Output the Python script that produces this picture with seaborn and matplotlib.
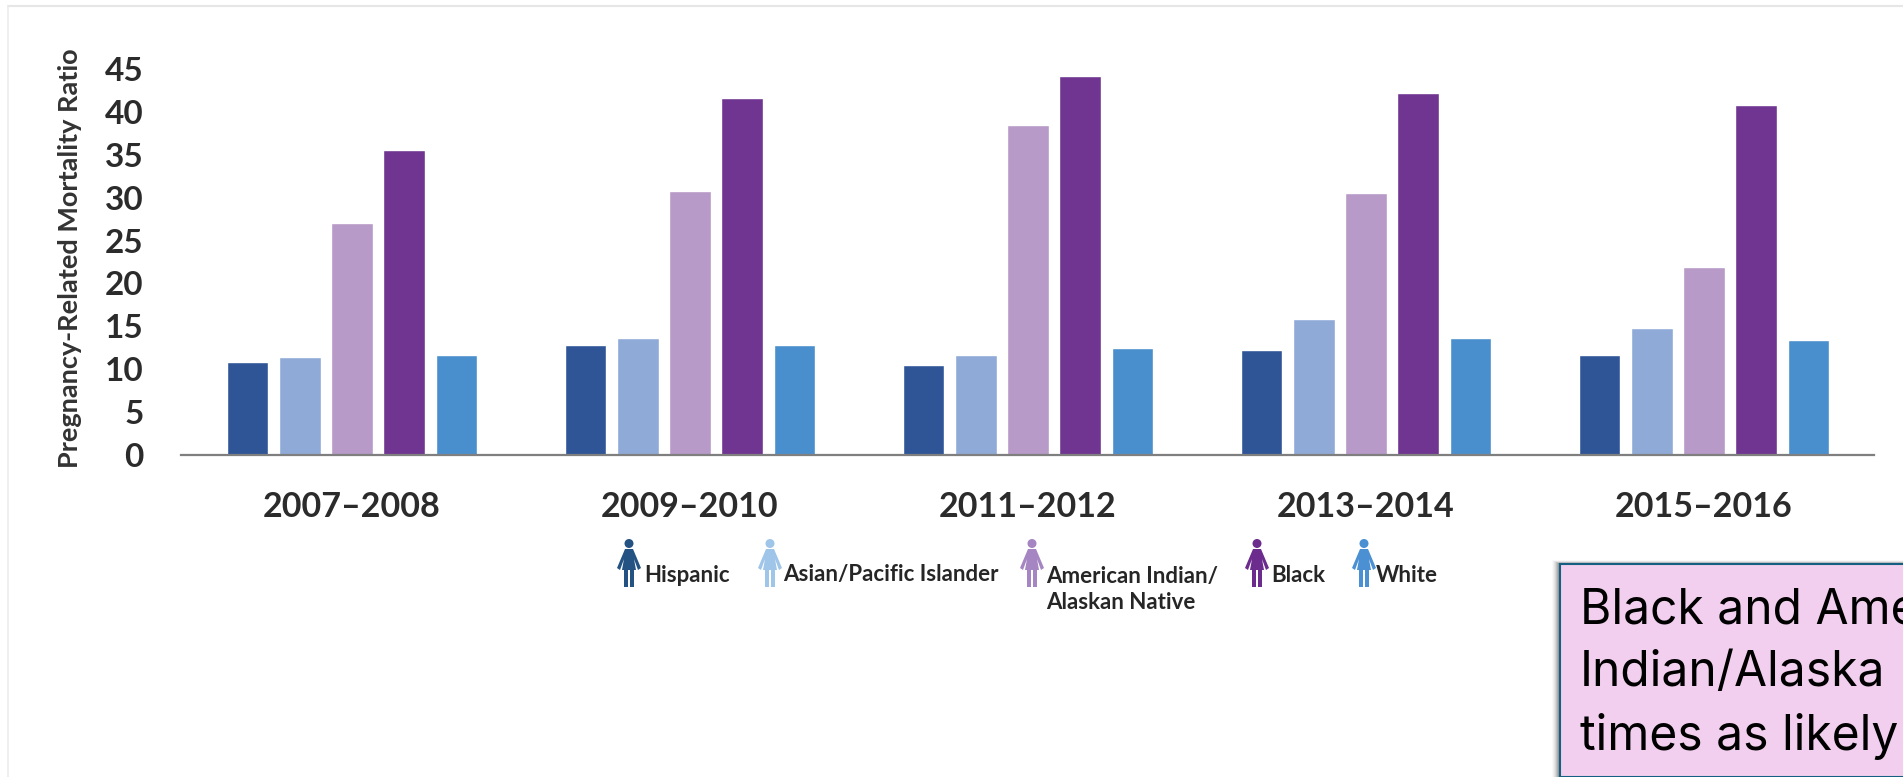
import matplotlib
matplotlib.use("Agg")
import matplotlib.pyplot as plt
import pandas as pd
import seaborn as sns
from matplotlib.lines import Line2D
from matplotlib.patches import Ellipse, Polygon, Rectangle

# Pregnancy-related mortality ratio by period and group
periods = ["2007–2008", "2009–2010", "2011–2012", "2013–2014", "2015–2016"]
hispanic = [10.8, 12.8, 10.5, 12.2, 11.6]
asian_pacific = [11.4, 13.6, 11.6, 15.9, 14.8]
american_indian = [27.1, 30.8, 38.5, 30.5, 21.9]
black = [35.6, 41.6, 44.2, 42.2, 40.8]
white = [11.6, 12.8, 12.5, 13.6, 13.4]
y_ticks = [0, 5, 10, 15, 20, 25, 30, 35, 40, 45]

groups = ["Hispanic", "Asian/Pacific Islander", "American Indian/Alaskan Native", "Black", "White"]
bar_colors = ["#2f5597", "#90aad8", "#b79ac8", "#6f3591", "#4a8fcd"]
icon_colors = ["#245282", "#9fc5e8", "#a585c2", "#6c2c8e", "#4a90d2"]
legend_labels = ["Hispanic", "Asian/Pacific Islander", "American Indian/\nAlaskan Native", "Black", "White"]

W, H = 1903, 777
sns.set_theme(style="white")
plt.rcParams["font.family"] = ["Lato", "DejaVu Sans"]

frame = pd.DataFrame({
    "period": periods * 5,
    "group": [g for g in groups for _ in periods],
    "ratio": hispanic + asian_pacific + american_indian + black + white,
})

fig = plt.figure(figsize=(W / 100, H / 100), dpi=100, facecolor="white")


def fx(px):
    return px / W


def fy(py):
    return 1 - py / H


ax = fig.add_axes([fx(181), fy(455), fx(1874 - 181), (455 - 69) / H])
sns.barplot(data=frame, x="period", y="ratio", hue="group", hue_order=groups,
            palette=bar_colors, saturation=1, width=0.773, gap=0.2,
            legend=False, ax=ax)
ax.set_xlim(-0.506, 4.503)
ax.set_ylim(0, 45)
ax.set_yticks(y_ticks)
ax.set_xlabel("")
ax.set_ylabel("")
ax.patch.set_alpha(0)
for side in ("top", "right", "left"):
    ax.spines[side].set_visible(False)
ax.spines["bottom"].set_color("#7f7f7f")
ax.spines["bottom"].set_linewidth(1.6)
ax.tick_params(axis="y", length=0, pad=27, labelsize=24, labelcolor="#2b2b2b")
ax.tick_params(axis="x", length=0, pad=26, labelsize=24.5, labelcolor="#2b2b2b")
for label in ax.get_xticklabels() + ax.get_yticklabels():
    label.set_fontweight("bold")

fig.text(fx(70), fy(258), "Pregnancy-Related Mortality Ratio", rotation=90,
         ha="center", va="center", fontsize=19.5, fontweight="bold", color="#333333")


def person(cx, color):
    """Small standing figure used as a legend key."""
    top, bottom = 539.0, 587.0
    fig.add_artist(Ellipse((fx(cx), fy(top + 4.5)), 9 / W, 9 / H, color=color,
                           transform=fig.transFigure, lw=0))
    body = [(cx - 4, top + 10), (cx + 4, top + 10), (cx + 12, top + 29), (cx + 9, top + 31),
            (cx + 5, top + 20), (cx + 7, top + 31), (cx + 5, top + 31), (cx + 5, bottom),
            (cx + 1, bottom), (cx + 1, top + 31), (cx - 1, top + 31), (cx - 1, bottom),
            (cx - 5, bottom), (cx - 5, top + 31), (cx - 7, top + 31), (cx - 5, top + 20),
            (cx - 9, top + 31), (cx - 12, top + 29)]
    fig.add_artist(Polygon([(fx(x), fy(y)) for x, y in body], closed=True, color=color,
                           transform=fig.transFigure, lw=0))


icon_x = [629, 770, 1032, 1257, 1364]
text_x = [644, 783, 1046, 1271, 1376]
for cx, tx, color, label in zip(icon_x, text_x, icon_colors, legend_labels):
    person(cx, color)
    text_y = 589.5 if "\n" in label else 575
    fig.text(fx(tx), fy(text_y), label, ha="left", va="center", fontsize=16,
             fontweight="bold", color="#262626", linespacing=1.3)

# Faint page edge around the chart
fig.add_artist(Line2D([fx(8), 1], [fy(6), fy(6)], color="#e6e6e6", lw=1.5, transform=fig.transFigure))
fig.add_artist(Line2D([fx(8), fx(8)], [fy(6), 0], color="#ececec", lw=1.2, transform=fig.transFigure))

# Callout box running off the lower right corner, with a soft shadow along its edge
for step, alpha in zip(range(8, 0, -1), [0.03, 0.05, 0.07, 0.1, 0.14, 0.18, 0.22, 0.26]):
    fig.add_artist(Rectangle((fx(1560 - step), 0), fx(W), fy(564 - step * 0.5), facecolor="#555555",
                             alpha=alpha, lw=0, transform=fig.transFigure))
fig.add_artist(Rectangle((fx(1560), 0), 1 - fx(1560) + 0.01, fy(564), facecolor="#f2cfee",
                         edgecolor="#156082", lw=1.5, transform=fig.transFigure))
callout_lines = ["Black and Ame", "Indian/Alaska", "times as likely"]
for line, base in zip(callout_lines, [623, 686, 750]):
    fig.text(fx(1580), fy(base), line, ha="left", va="baseline", fontsize=34.5,
             color="black", family=["Inter", "DejaVu Sans"])

fig.savefig("out.png", dpi=100, facecolor="white")
